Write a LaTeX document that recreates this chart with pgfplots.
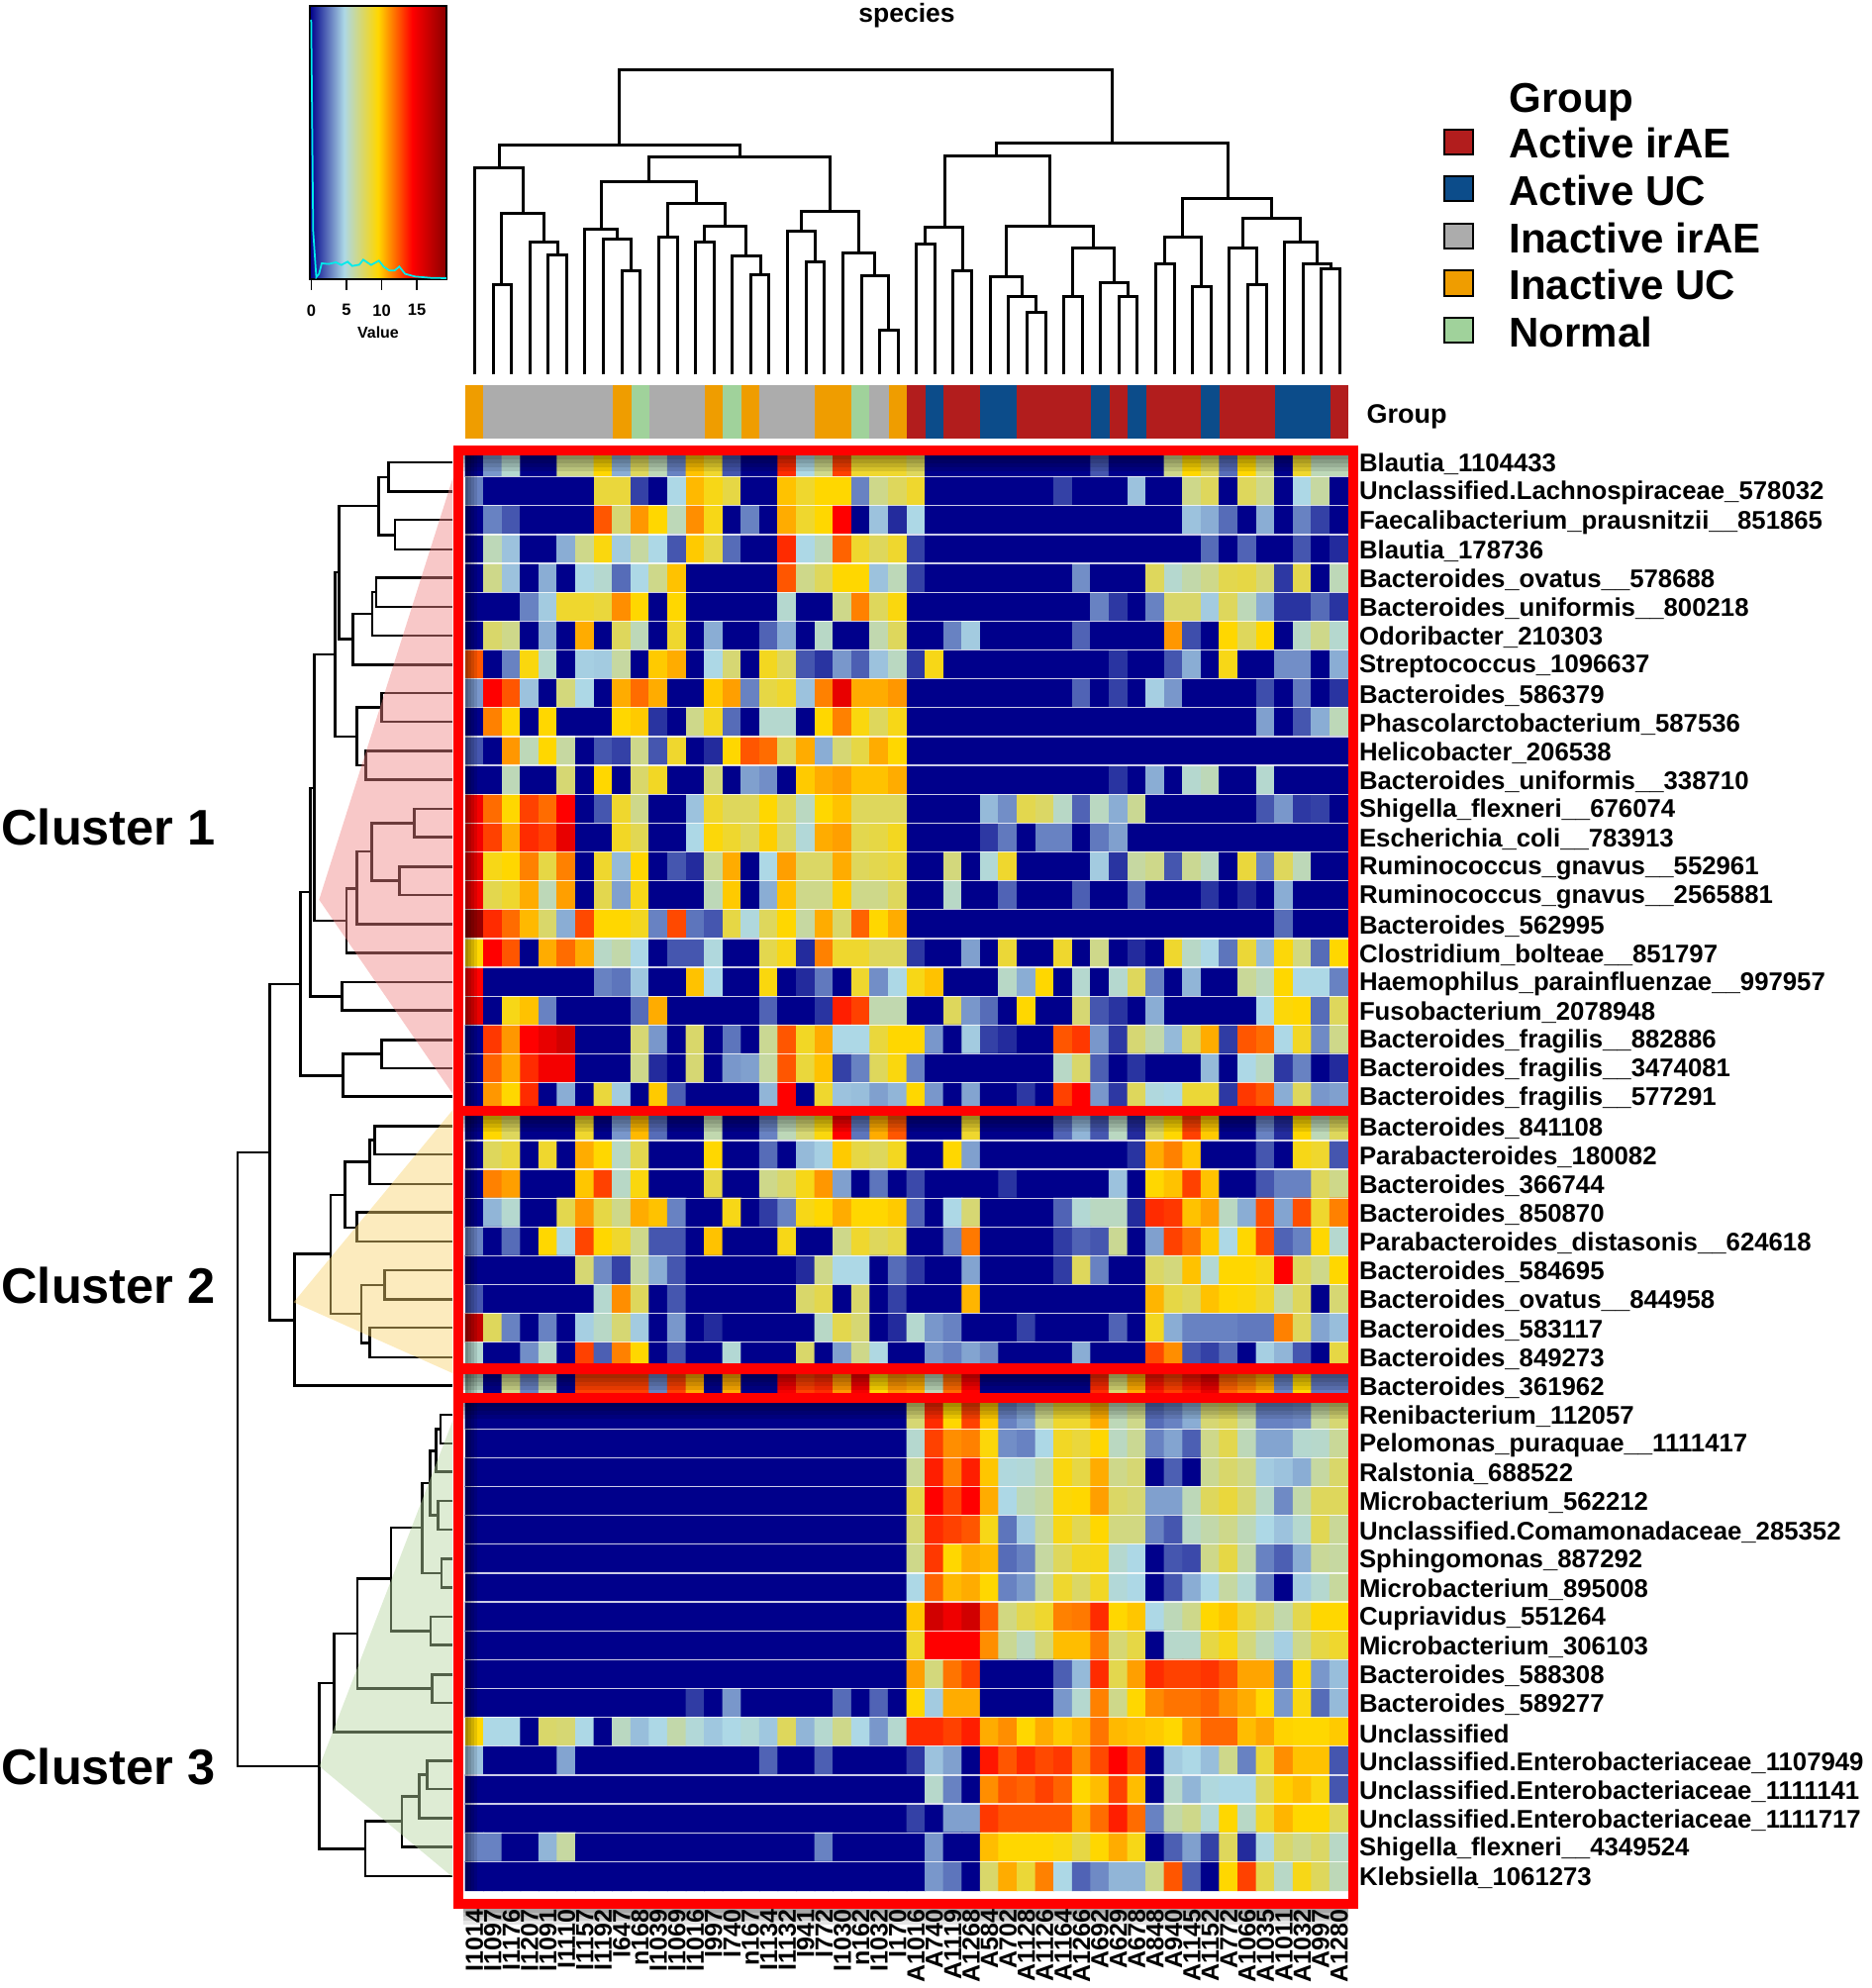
\documentclass[border=0pt]{standalone}
\usepackage{fontspec}
\setmainfont{Liberation Sans}
\usepackage{pgfplots}
\pgfplotsset{compat=1.18}
\definecolor{cA}{RGB}{178,29,29}
\definecolor{cB}{RGB}{12,76,138}
\definecolor{cC}{RGB}{172,172,172}
\definecolor{cD}{RGB}{239,157,0}
\definecolor{cE}{RGB}{160,210,155}
\definecolor{k0}{RGB}{0,0,139}
\definecolor{k1}{RGB}{173,216,230}
\definecolor{k2}{RGB}{255,215,0}
\definecolor{k3}{RGB}{255,0,0}
\definecolor{k4}{RGB}{139,0,0}
\definecolor{trR}{RGB}{240,133,133}
\definecolor{trO}{RGB}{249,211,111}
\definecolor{trG}{RGB}{182,213,160}
\definecolor{dens}{RGB}{0,235,235}
\pgfdeclarehorizontalshading{keyshade}{100bp}{color(0bp)=(k0); color(25bp)=(k0); color(37.5bp)=(k1); color(50bp)=(k2); color(62.5bp)=(k3); color(75bp)=(k4); color(100bp)=(k4)}
\pgfplotsset{base/.style={hide axis, scale only axis, clip=false, anchor=south west}}
\newcommand{\fs}[1]{\fontsize{#1}{#1}\selectfont\bfseries}
\newcommand{\lb}[2]{\node[anchor=west,inner sep=0pt] at (axis cs:47.5,#1+0.07) {\hspace{4.2pt}\fs{10.3}#2};}
\newcommand{\cl}[2]{\node[anchor=east,rotate=90,inner sep=0pt] at (axis cs:#1,50.15) {\fs{10}#2};}
\newcommand{\gb}[3]{\addplot[fill=#1,draw=none] coordinates {(#2,1017)(#3,1017)(#3,1180)(#2,1180)} --cycle;}
\newcommand{\sep}[1]{\draw[white,opacity=.8,line width=.5pt] (axis cs:-0.5,#1) -- (axis cs:47.5,#1);}
\newcommand{\tk}[2]{\draw[black,line width=.5pt] (axis cs:#1,845) -- (axis cs:#1,878);
  \node[inner sep=0pt] at (axis cs:#1,940) {\fontsize{6.6}{7}\selectfont\bfseries #2};}
\newcommand{\shb}[1]{\fill[black,opacity=.1] (axis cs:468,#1) rectangle (axis cs:1362,#1+4);
  \fill[black,opacity=.1] (axis cs:468,#1) rectangle (axis cs:1362,#1+8);
  \fill[black,opacity=.1] (axis cs:468,#1) rectangle (axis cs:1362,#1+12);
  \fill[black,opacity=.1] (axis cs:468,#1) rectangle (axis cs:1362,#1+16);}
\newcommand{\shl}[1]{\fill[black,opacity=.1] (axis cs:470,460) rectangle (axis cs:470+#1,1910);}
\begin{document}
\begin{tikzpicture}
\useasboundingbox (0,0) rectangle (756pt,803.2pt);
% ---------- heatmap
\begin{axis}[base, at={(188pt,39.4pt)}, width=356.8pt, height=582.8pt,
  xmin=-0.5,xmax=47.5,ymin=-0.5,ymax=49.5,y dir=reverse,
  colormap={hm}{rgb255=(0,0,139) rgb255=(173,216,230) rgb255=(255,215,0) rgb255=(255,0,0) rgb255=(139,0,0)},
  point meta min=0, point meta max=20]
\addplot[matrix plot*, mesh/cols=48, point meta=\thisrowno{0}] table[row sep=\\, header=false, x expr={\coordindex-48*floor((\coordindex+0.5)/48)}, y expr={floor((\coordindex+0.5)/48)}] {
0\\3.5\\5.5\\0\\0\\7\\7\\10\\4\\8\\6\\3\\10.5\\9\\2\\0\\0\\14\\5\\7\\13.5\\9\\9\\9\\8\\0\\0\\0\\0\\0\\0\\0\\0\\0\\2\\0\\0\\0\\7\\10\\8\\2.5\\10\\7\\0\\9\\6\\6\\
3\\0\\0\\0\\0\\0\\0\\8.7\\8.7\\1.5\\0\\5\\10.7\\9.5\\8.5\\0\\0\\10.5\\9\\10\\10\\3\\7\\8\\9\\0\\0\\0\\0\\0\\0\\0\\1.5\\0\\0\\0\\4.5\\0\\0\\7\\8\\0\\8\\7\\0\\5\\6.5\\0\\
0\\3\\2\\0\\0\\0\\0\\13\\7.5\\11.5\\10\\6\\11.7\\9.5\\0\\3\\0\\11\\9\\10\\15\\0\\4.5\\1\\5\\0\\0\\0\\0\\0\\0\\0\\0\\0\\0\\0\\0\\0\\0\\4.5\\4\\2.5\\0\\4\\0\\3\\1.5\\0\\
0\\6\\4.5\\0\\0\\4\\7\\9.7\\4.7\\6.5\\5\\2\\10.3\\8.5\\2.5\\0\\0\\14\\5\\6\\12.7\\9\\8\\9\\1.5\\0\\0\\0\\0\\0\\0\\0\\0\\0\\0\\0\\0\\0\\0\\0\\2.5\\0\\2.3\\0\\0\\2\\0\\1\\
0\\7\\4.5\\0\\4\\0\\5\\5.5\\2.5\\5\\7\\10.5\\0\\0\\0\\0\\0\\13\\7\\8\\10\\10\\4.5\\6\\1.5\\0\\0\\0\\0\\0\\0\\0\\0\\3.3\\0\\0\\0\\8\\5.5\\6.3\\7\\8.3\\8.5\\7.5\\1.3\\8.3\\0\\6\\
0\\0\\0\\3\\4.7\\9\\9\\8.7\\11.7\\10\\0\\10\\0\\0\\0\\0\\0\\5.5\\0\\0\\7\\12\\8\\9.7\\0\\0\\0\\0\\0\\0\\0\\0\\0\\0\\3\\1.3\\0\\3\\7.7\\7.7\\4.7\\8\\6\\4\\1.2\\1.2\\2.5\\1.2\\
0\\7.7\\7\\0\\4\\0\\11\\0\\8\\6\\0\\9\\0\\4\\0\\0\\2.3\\4\\0\\5.7\\0\\0\\6.2\\8\\0\\0\\3\\4.7\\0\\0\\0\\0\\0\\2.3\\0\\0\\0\\0\\11.5\\1.8\\0\\10\\8\\10\\0\\5.7\\7\\5.5\\
13\\0\\3\\9.7\\5.5\\0\\4.8\\4.7\\6.5\\0\\10.3\\11\\0\\5\\7.5\\0\\9.3\\8\\2\\1.2\\3.5\\2.2\\4.5\\5.8\\1.3\\9.5\\0\\0\\0\\0\\0\\0\\0\\0\\0\\1.2\\0\\0\\2\\4\\0\\9.5\\0\\0\\3.3\\3.3\\0\\4\\
3.5\\15\\13\\4.5\\0\\7.3\\5\\0\\11\\12.5\\11\\0\\0\\10.3\\11.3\\3\\8.5\\9\\4.5\\12\\16\\11\\11\\11.5\\0\\0\\0\\0\\0\\0\\0\\0\\0\\2.3\\0\\1.5\\0\\4.8\\3.5\\0\\0\\0\\0\\1.8\\0\\2.8\\0\\1.2\\
0\\12\\10\\0\\10\\0\\0\\0\\10\\10.3\\1.2\\0\\7\\9.3\\2.5\\0\\5.5\\5.5\\0\\10\\12\\9.7\\8\\9.5\\0\\0\\0\\0\\0\\0\\0\\0\\0\\0\\0\\0\\0\\0\\0\\0\\0\\0\\0\\3.7\\0\\2\\4\\6\\
2\\0\\11.5\\6\\10\\6.5\\0\\2\\1.5\\7\\2\\9\\0\\1\\10\\13\\12.5\\8\\11\\4\\7.5\\8.5\\11\\10\\0\\0\\0\\0\\0\\0\\0\\0\\0\\0\\0\\0\\0\\0\\0\\0\\0\\0\\0\\0\\0\\0\\0\\0\\
0\\0\\6\\0\\0\\7.5\\0\\10\\0\\7.7\\9.2\\0\\0\\7.3\\0\\3.7\\3.3\\0\\10.3\\11\\11.3\\10.5\\10.5\\11\\0\\0\\0\\0\\0\\0\\0\\0\\0\\0\\0\\1.2\\0\\4\\0\\5.5\\6\\0\\0\\5.5\\0\\0\\0\\0\\
15.5\\12.5\\10\\13.5\\12.5\\15\\0\\2\\9\\7\\0\\0\\4.5\\9\\8\\8\\10\\8\\5.8\\10\\10.5\\8\\8\\8\\0\\0\\0\\0\\4.3\\3.3\\8.3\\7.8\\5.7\\2.3\\5.8\\4\\6.8\\0\\0\\0\\0\\0\\0\\2\\3.5\\1.3\\1.5\\0\\
15.5\\13.5\\11\\14\\13.5\\16\\0\\0\\9.2\\8.2\\0\\0\\5\\9.8\\9\\8\\10.2\\7.8\\5.3\\11\\11.3\\8.3\\8.5\\9.3\\0\\0\\0\\0\\1.3\\2.8\\0\\3\\3\\0\\2.8\\3.7\\0\\0\\0\\0\\0\\0\\0\\0\\0\\0\\0\\0\\
16\\9.5\\10\\12\\8.5\\12\\0\\9\\4.3\\10\\0\\2\\1\\6.8\\11\\0\\5\\11.3\\7.8\\7.8\\11\\8\\8.3\\8.7\\0\\0\\7.3\\0\\5.3\\9\\0\\0\\0\\0\\4.7\\1.2\\6.5\\7\\2\\6.8\\5.8\\0\\8.7\\3\\8\\6\\0\\0\\
15.5\\8.3\\9\\11\\6\\11.3\\0\\8.3\\3.7\\9.5\\0\\0\\0\\6\\10.3\\0\\4\\10.5\\7\\7\\10.2\\7\\7\\8\\0\\0\\5.7\\0\\0\\2.3\\0\\0\\0\\2.2\\0\\0\\2.5\\0\\0\\0\\1.2\\0\\1\\0\\4\\0\\0\\0\\
19.5\\14\\12.5\\10.7\\7.7\\4\\13.3\\10\\10\\9.3\\3\\13.3\\2.7\\2\\8.5\\5.2\\8\\10\\6.5\\11\\7.7\\12.7\\10\\11\\0\\0\\0\\0\\0\\0\\0\\0\\0\\0\\0\\0\\0\\0\\0\\0\\0\\0\\0\\0\\2.5\\0\\0\\0\\
10\\15\\13\\0\\11\\12.5\\11\\5.7\\6.3\\5\\0\\2\\2\\5.2\\0\\0\\8.3\\9.5\\1\\12\\9\\9\\8\\8\\1.3\\0\\0\\3.7\\0\\8.8\\0\\0\\9\\0\\7\\0\\1\\0\\9\\5.7\\5\\2.7\\8.8\\4.3\\9.8\\7.2\\2.5\\10\\
15\\0\\0\\0\\0\\0\\0\\3\\2.7\\4.6\\0\\0\\10.5\\5\\0\\0\\9.7\\0\\1\\2.8\\0\\9\\3.3\\5\\9.5\\10.5\\0\\0\\0\\5.7\\4\\10\\0\\5.5\\0\\5.5\\8\\3\\0\\4.2\\0\\0\\6.7\\5.9\\10\\5\\5\\3\\
16\\0\\9.5\\10.5\\3\\0\\0\\0\\0\\2.5\\11\\0\\0\\0\\0\\0\\2.3\\0\\0\\1.2\\14.3\\13.5\\6.2\\6.2\\0\\0\\8\\3.5\\2.5\\0\\10\\0\\0\\7.5\\2\\1.2\\0\\4\\0\\0\\0\\0\\0\\5\\9.8\\10\\2.5\\8\\
0\\13.7\\11.5\\15\\16\\17\\0\\0\\0\\7.5\\3.5\\0\\7.7\\0\\2.7\\0\\6.8\\13\\9.2\\11\\5\\5\\8.7\\10\\10\\3.5\\0\\4.7\\1.5\\1\\0\\0\\13\\13.7\\3.5\\1.3\\7.5\\6.3\\4.3\\8\\11\\1.4\\13\\12.5\\5\\9.2\\3.2\\7\\
0\\12.7\\11\\14\\15.5\\15.5\\0\\0\\0\\7\\1\\0\\7.5\\0\\3.5\\3.7\\6.5\\13\\8.7\\10.5\\1.5\\3\\8\\9.7\\3\\0\\0\\0\\0\\0\\0\\0\\5.7\\7.7\\2.2\\0\\1.2\\0\\0\\0\\4.3\\0\\5\\5.8\\1.3\\3\\0\\1\\
0\\11.5\\10\\14\\0\\4\\0\\8.7\\4.7\\0\\10.3\\2.2\\0\\0\\0\\0\\4.2\\15\\0\\9\\4.5\\4.4\\3.7\\4.2\\10\\3.5\\0\\3.8\\0\\0\\1.3\\0\\13.5\\15\\3.5\\1.3\\8\\5.2\\5\\8.8\\8.8\\1.3\\13.7\\13\\4\\8\\3.5\\3.7\\
0\\10\\8\\0\\0\\0\\9\\0\\3.5\\10.7\\2.5\\0\\0\\6.2\\0\\0\\3\\6\\7.5\\9.7\\15\\2.7\\11\\13\\0\\0\\0\\9\\0\\0\\0\\0\\2.3\\4.2\\2\\5.8\\1\\8\\10\\13.5\\10.3\\0\\0\\3\\1\\10\\6\\8\\
0\\8\\8.7\\0\\9\\0\\11\\10\\5.7\\8.3\\0\\0\\0\\10\\0\\0\\2.5\\0\\4.3\\4.8\\10.3\\8.5\\8\\9.3\\0\\0\\10\\3.7\\0\\0\\0\\0\\0\\0\\0\\0\\1.2\\11\\12\\10.4\\0\\0\\0\\2\\0\\9.5\\9\\2\\
0\\12\\11.3\\0\\0\\0\\10.4\\13.5\\5.7\\9.7\\0\\0\\0\\8.5\\0\\0\\7\\7.7\\9.5\\11.5\\3.7\\0\\2.7\\0\\1.7\\0\\0\\0\\0\\1.2\\0\\0\\0\\0\\0\\4.5\\0\\10\\10.5\\13.5\\10.5\\0\\0\\2\\3\\3\\8\\7\\
0\\4.2\\5.5\\0\\0\\8.3\\11.5\\8.5\\7\\11\\10.5\\3\\0\\0\\9.5\\0\\1.4\\3\\9.5\\10\\11\\10\\10\\10.3\\2.3\\0\\5\\7.5\\0\\0\\0\\0\\2.3\\5.4\\5.8\\5.8\\1\\14\\13.7\\10.5\\11.3\\5.8\\4\\13.2\\3.8\\13.2\\9\\12\\
3\\0\\2.5\\0\\10\\5\\13.4\\10\\9\\7\\2\\2\\0\\10.5\\0\\0\\0\\9.5\\0\\0\\7\\9\\8\\8.5\\0\\0\\3\\12.2\\0\\0\\0\\0\\1.4\\2.3\\2\\6.8\\0\\3.7\\13.5\\12.3\\10.3\\5\\10\\13.3\\2.3\\3\\10\\5.5\\
0\\0\\0\\0\\0\\0\\7.5\\3.2\\1.5\\6.5\\4\\2\\0\\0\\0\\0\\0\\0\\1\\7\\5\\5\\0\\2.5\\1.3\\0\\0\\3.8\\0\\0\\0\\0\\1.4\\8\\3\\0\\0\\7.8\\7.3\\10.5\\5.4\\10\\10\\9.5\\15\\8\\7\\10\\
2\\0\\0\\0\\0\\0\\0\\5.5\\11.7\\8\\0\\2\\0\\0\\0\\0\\0\\0\\7.7\\8.3\\0\\7.7\\0\\1.5\\0\\0\\0\\10.8\\0\\0\\0\\0\\0\\0\\0\\0\\0\\10.8\\8.5\\8\\10.5\\10\\9.8\\9\\6.5\\8\\0\\7.5\\
17.5\\8\\3\\0\\3\\0\\4.8\\5.7\\7.5\\4.7\\0\\3.5\\0\\1\\0\\0\\0\\0\\0\\5.7\\8.3\\7.5\\0\\1\\5.5\\3.5\\3\\0\\0\\0\\1.5\\0\\0\\0\\0\\2.3\\0\\9.3\\4\\3\\3\\3\\2.8\\2.8\\12\\8\\3.8\\4.4\\
5.5\\0\\0\\3.3\\5.6\\0\\13.5\\2.2\\12\\10\\0\\2\\0\\0\\5.4\\0\\0\\0\\7.7\\0\\3.7\\7\\5.1\\0\\0\\3.5\\3\\3.8\\3.2\\0\\0\\0\\0\\4\\0\\0\\0\\13.3\\11.7\\2\\1.5\\2.5\\0\\4.8\\4.2\\2\\0\\8.5\\
5.7\\0\\7\\3\\6.5\\0\\13.5\\13.5\\13.5\\13.5\\3\\13.5\\11\\0\\11\\0\\0\\15.5\\13.5\\14\\11.5\\15.5\\10\\11.5\\11\\6\\12.5\\15\\0\\0\\0\\0\\0\\0\\14\\7.5\\11\\14.5\\13.5\\14.5\\16\\12.7\\12\\11\\3\\10\\2.8\\2.8\\
0\\0\\0\\0\\0\\0\\0\\0\\0\\0\\0\\0\\0\\0\\0\\0\\0\\0\\0\\0\\0\\0\\0\\0\\7.5\\14\\10\\13.5\\10.3\\3\\3.7\\7\\9\\9\\11\\6\\7\\2.5\\3\\4\\7.5\\8\\6.5\\3\\3\\3.2\\6.5\\7.5\\
0\\0\\0\\0\\0\\0\\0\\0\\0\\0\\0\\0\\0\\0\\0\\0\\0\\0\\0\\0\\0\\0\\0\\0\\5.5\\13.5\\11.7\\12\\9.8\\3.3\\3\\5\\9.2\\8.7\\10\\5.8\\6.8\\3\\3.8\\2.2\\7\\8.3\\6\\3.8\\3.8\\5.5\\5.6\\6.7\\
0\\0\\0\\0\\0\\0\\0\\0\\0\\0\\0\\0\\0\\0\\0\\0\\0\\0\\0\\0\\0\\0\\0\\0\\6.7\\14.3\\12\\14.3\\10.4\\5.2\\5.3\\6.2\\9.7\\8.5\\11\\7\\7.5\\0\\2.2\\0\\6.8\\7.7\\7\\4.7\\4.5\\4\\6.5\\7.7\\
0\\0\\0\\0\\0\\0\\0\\0\\0\\0\\0\\0\\0\\0\\0\\0\\0\\0\\0\\0\\0\\0\\0\\0\\8.3\\15\\13.5\\15\\11\\5\\6\\6.5\\9.8\\10\\11.3\\7.8\\7.5\\3.7\\3.7\\6\\8\\8.7\\7.5\\5.7\\3.2\\6.3\\8\\8\\
0\\0\\0\\0\\0\\0\\0\\0\\0\\0\\0\\0\\0\\0\\0\\0\\0\\0\\0\\0\\0\\0\\0\\0\\7.5\\14\\13.5\\13\\9.5\\2.7\\4.7\\6.5\\9.5\\8.2\\10\\7.2\\7.2\\3\\2\\5.7\\6.3\\7\\6\\5\\4.5\\5.5\\8.2\\6.7\\
0\\0\\0\\0\\0\\0\\0\\0\\0\\0\\0\\0\\0\\0\\0\\0\\0\\0\\0\\0\\0\\0\\0\\0\\7\\13.7\\10\\11\\10.7\\2.5\\3\\6.5\\8\\9.3\\9.5\\5.5\\5\\0\\2\\1.7\\7\\8.5\\6.3\\3\\2.2\\4\\6.7\\6.5\\
0\\0\\0\\0\\0\\0\\0\\0\\0\\0\\0\\0\\0\\0\\0\\0\\0\\0\\0\\0\\0\\0\\0\\0\\5\\12.7\\10.7\\11\\10\\3\\3.6\\6.5\\9\\7.8\\9.2\\5.3\\5\\0\\2\\4\\5\\6.5\\5.4\\3\\0\\4.7\\5.5\\6.6\\
0\\0\\0\\0\\0\\0\\0\\0\\0\\0\\0\\0\\0\\0\\0\\0\\0\\0\\0\\0\\0\\0\\0\\0\\10.4\\17\\15.7\\17\\12.8\\7.2\\8.3\\9\\12\\12.2\\14\\10\\10.4\\5\\6\\7\\10\\10.4\\8.7\\7.7\\6.3\\8.3\\10\\10\\
0\\0\\0\\0\\0\\0\\0\\0\\0\\0\\0\\0\\0\\0\\0\\0\\0\\0\\0\\0\\0\\0\\0\\0\\9\\15\\15\\15\\11.7\\6.8\\5.8\\7.5\\10.6\\10.6\\12.2\\7.5\\8.5\\0\\5.6\\5.6\\8.5\\9.5\\7.3\\6\\4.8\\7\\8.5\\9\\
0\\0\\0\\0\\0\\0\\0\\0\\0\\0\\0\\0\\0\\0\\0\\0\\0\\0\\0\\0\\0\\0\\0\\0\\11.3\\7.3\\12.3\\13.5\\0\\0\\0\\0\\2.2\\4.3\\14\\8.3\\11.3\\14\\13.5\\13.5\\13.8\\13\\11.2\\11.2\\3\\10\\3.5\\4.4\\
0\\0\\0\\0\\0\\0\\0\\0\\0\\0\\0\\0\\1.4\\0\\3.5\\0\\0\\0\\0\\0\\2.5\\0\\2.3\\0\\10\\4.7\\11\\11\\0\\0\\0\\0\\3.5\\5.5\\12\\7\\10\\11.8\\12.3\\12.3\\12.7\\11.7\\11\\10\\3.5\\9.7\\2.5\\4.3\\
10\\5\\5\\0\\7.7\\7.5\\5\\0\\5.8\\4.4\\5\\6.3\\5.3\\4.6\\5\\5.3\\4.6\\8\\4.2\\5.5\\7\\5\\3.5\\5.5\\14\\14\\13.5\\14.3\\11\\11.7\\10\\11\\10.3\\10.8\\12.3\\10.7\\10.5\\10.3\\10\\11.3\\12.6\\12.6\\10.6\\11.2\\10.1\\10\\10\\10.3\\
4.5\\0\\0\\0\\0\\3.8\\0\\0\\0\\0\\0\\0\\0\\0\\0\\0\\2.3\\0\\0\\2.2\\0\\0\\0\\0\\1.3\\4.5\\3.7\\0\\14.5\\13\\14\\13.3\\13.7\\11.7\\13.3\\15\\13.5\\0\\4.7\\5\\4.4\\7\\3\\8.8\\11.7\\10.5\\10.5\\2\\
0\\0\\0\\0\\0\\0\\0\\0\\0\\0\\0\\0\\0\\0\\0\\0\\0\\0\\0\\0\\0\\0\\0\\0\\0\\5.6\\3\\0\\11.7\\13\\12.7\\13.5\\12.7\\10\\10.6\\13.5\\10.6\\0\\5.6\\4.2\\5.2\\5\\5\\8\\10.2\\10.6\\9.7\\2\\
0\\0\\0\\0\\0\\0\\0\\0\\0\\0\\0\\0\\0\\0\\0\\0\\0\\0\\0\\0\\0\\0\\0\\0\\1.5\\0\\3.7\\3.7\\13.7\\13\\13\\13\\13\\11\\12.5\\14.3\\12.5\\3\\6.3\\7\\5.3\\10\\5.7\\9\\10.8\\10\\10\\8\\
3\\3\\0\\0\\4.2\\6.5\\0\\0\\0\\0\\0\\0\\0\\0\\0\\0\\0\\0\\0\\3\\0\\0\\0\\0\\0\\3.5\\0\\0\\10.6\\10\\10\\10\\9.7\\8.5\\10\\11\\9.5\\0\\2.2\\3.7\\1.5\\8\\1\\5.2\\7.7\\7\\7.8\\5.7\\
0\\0\\0\\0\\0\\0\\0\\0\\0\\0\\0\\0\\0\\0\\0\\0\\0\\0\\0\\0\\0\\0\\0\\0\\0\\3.5\\2.7\\0\\7.7\\11\\8.8\\12\\5\\2.3\\3.2\\4.2\\4.2\\7\\13\\2.2\\0\\10\\13.5\\8.3\\5.7\\9.5\\8\\6\\
};
\pgfplotsinvokeforeach{0.5,1.5,...,48.5}{\sep{#1}}
\lb{0}{Blautia\_1104433}
\lb{1}{Unclassified.Lachnospiraceae\_578032}
\lb{2}{Faecalibacterium\_prausnitzii\_\_851865}
\lb{3}{Blautia\_178736}
\lb{4}{Bacteroides\_ovatus\_\_578688}
\lb{5}{Bacteroides\_uniformis\_\_800218}
\lb{6}{Odoribacter\_210303}
\lb{7}{Streptococcus\_1096637}
\lb{8}{Bacteroides\_586379}
\lb{9}{Phascolarctobacterium\_587536}
\lb{10}{Helicobacter\_206538}
\lb{11}{Bacteroides\_uniformis\_\_338710}
\lb{12}{Shigella\_flexneri\_\_676074}
\lb{13}{Escherichia\_coli\_\_783913}
\lb{14}{Ruminococcus\_gnavus\_\_552961}
\lb{15}{Ruminococcus\_gnavus\_\_2565881}
\lb{16}{Bacteroides\_562995}
\lb{17}{Clostridium\_bolteae\_\_851797}
\lb{18}{Haemophilus\_parainfluenzae\_\_997957}
\lb{19}{Fusobacterium\_2078948}
\lb{20}{Bacteroides\_fragilis\_\_882886}
\lb{21}{Bacteroides\_fragilis\_\_3474081}
\lb{22}{Bacteroides\_fragilis\_\_577291}
\lb{23}{Bacteroides\_841108}
\lb{24}{Parabacteroides\_180082}
\lb{25}{Bacteroides\_366744}
\lb{26}{Bacteroides\_850870}
\lb{27}{Parabacteroides\_distasonis\_\_624618}
\lb{28}{Bacteroides\_584695}
\lb{29}{Bacteroides\_ovatus\_\_844958}
\lb{30}{Bacteroides\_583117}
\lb{31}{Bacteroides\_849273}
\lb{32}{Bacteroides\_361962}
\lb{33}{Renibacterium\_112057}
\lb{34}{Pelomonas\_puraquae\_\_1111417}
\lb{35}{Ralstonia\_688522}
\lb{36}{Microbacterium\_562212}
\lb{37}{Unclassified.Comamonadaceae\_285352}
\lb{38}{Sphingomonas\_887292}
\lb{39}{Microbacterium\_895008}
\lb{40}{Cupriavidus\_551264}
\lb{41}{Microbacterium\_306103}
\lb{42}{Bacteroides\_588308}
\lb{43}{Bacteroides\_589277}
\lb{44}{Unclassified}
\lb{45}{Unclassified.Enterobacteriaceae\_1107949}
\lb{46}{Unclassified.Enterobacteriaceae\_1111141}
\lb{47}{Unclassified.Enterobacteriaceae\_1111717}
\lb{48}{Shigella\_flexneri\_\_4349524}
\lb{49}{Klebsiella\_1061273}
\cl{0}{I1014}\cl{1}{I1097}\cl{2}{I1176}\cl{3}{I1207}\cl{4}{I1091}\cl{5}{I1110}\cl{6}{I1157}\cl{7}{I1192}
\cl{8}{I647}\cl{9}{n168}\cl{10}{I1039}\cl{11}{I1069}\cl{12}{I1016}\cl{13}{I997}\cl{14}{I740}\cl{15}{n167}
\cl{16}{I1134}\cl{17}{I1132}\cl{18}{I941}\cl{19}{I772}\cl{20}{I1030}\cl{21}{n162}\cl{22}{I1032}\cl{23}{I170}
\cl{24}{A1016}\cl{25}{A740}\cl{26}{A1119}\cl{27}{A1268}\cl{28}{A584}\cl{29}{A702}\cl{30}{A1128}\cl{31}{A1126}
\cl{32}{A1164}\cl{33}{A1266}\cl{34}{A692}\cl{35}{A629}\cl{36}{A678}\cl{37}{A848}\cl{38}{A940}\cl{39}{A1145}
\cl{40}{A1152}\cl{41}{A772}\cl{42}{A1066}\cl{43}{A1035}\cl{44}{A1011}\cl{45}{A1032}\cl{46}{A997}\cl{47}{A1280}
\end{axis}
% ---------- left dendrogram
\begin{axis}[base, at={(0pt,27.2pt)}, width=192pt, height=600pt,
  xmin=0,xmax=1440,ymin=0,ymax=1568,y dir=reverse, unbounded coords=jump]
\addplot[black, line width=1pt] coordinates {
(1372,28)(1178,28)(1178,59)(1372,59)(nan,nan)
(1372,89)(1197,89)(1197,120)(1372,120)(nan,nan)
(1178,44)(1147,44)(1147,105)(1197,105)(nan,nan)
(1372,150)(1140,150)(1140,181)(1372,181)(nan,nan)
(1140,165)(1128,165)(1128,211)(1372,211)(nan,nan)
(1128,188)(1070,188)(1070,242)(1372,242)(nan,nan)
(1147,74)(1027,74)(1027,215)(1070,215)(nan,nan)
(1372,272)(1157,272)(1157,302)(1372,302)(nan,nan)
(1372,333)(1108,333)(1108,363)(1372,363)(nan,nan)
(1157,287)(1082,287)(1082,348)(1108,348)(nan,nan)
(1027,144)(1015,144)(1015,318)(1082,318)(nan,nan)
(1372,394)(1255,394)(1255,424)(1372,424)(nan,nan)
(1372,455)(1210,455)(1210,485)(1372,485)(nan,nan)
(1255,409)(1127,409)(1127,470)(1210,470)(nan,nan)
(1127,439)(1082,439)(1082,516)(1372,516)(nan,nan)
(1082,478)(1050,478)(1050,546)(1372,546)(nan,nan)
(1015,231)(953,231)(953,512)(1050,512)(nan,nan)
(1372,577)(1037,577)(1037,607)(1372,607)(nan,nan)
(953,372)(940,372)(940,592)(1037,592)(nan,nan)
(1372,638)(1157,638)(1157,668)(1372,668)(nan,nan)
(1157,653)(1040,653)(1040,698)(1372,698)(nan,nan)
(940,482)(910,482)(910,676)(1040,676)(nan,nan)
(1372,729)(1135,729)(1135,759)(1372,759)(nan,nan)
(1135,744)(1120,744)(1120,790)(1372,790)(nan,nan)
(1372,820)(1082,820)(1082,851)(1372,851)(nan,nan)
(1120,767)(1045,767)(1045,836)(1082,836)(nan,nan)
(1372,881)(1165,881)(1165,912)(1372,912)(nan,nan)
(1372,942)(1120,942)(1120,973)(1372,973)(nan,nan)
(1165,897)(1095,897)(1095,958)(1120,958)(nan,nan)
(1045,802)(1002,802)(1002,927)(1095,927)(nan,nan)
(1002,864)(893,864)(893,1003)(1372,1003)(nan,nan)
(910,579)(817,579)(817,934)(893,934)(nan,nan)
(817,757)(720,757)(720,1405)(968,1405)(nan,nan)
(1372,1034)(1335,1034)(1335,1064)(1372,1064)(nan,nan)
(1335,1049)(1322,1049)(1322,1094)(1372,1094)(nan,nan)
(1372,1125)(1327,1125)(1327,1155)(1372,1155)(nan,nan)
(1322,1072)(1303,1072)(1303,1140)(1327,1140)(nan,nan)
(1372,1186)(1338,1186)(1338,1216)(1372,1216)(nan,nan)
(1303,1106)(1280,1106)(1280,1201)(1338,1201)(nan,nan)
(1372,1247)(1305,1247)(1305,1277)(1372,1277)(nan,nan)
(1280,1153)(1185,1153)(1185,1262)(1305,1262)(nan,nan)
(1372,1308)(1310,1308)(1310,1338)(1372,1338)(nan,nan)
(1185,1207)(1083,1207)(1083,1323)(1310,1323)(nan,nan)
(1083,1265)(1012,1265)(1012,1369)(1372,1369)(nan,nan)
(1372,1399)(1295,1399)(1295,1429)(1372,1429)(nan,nan)
(1295,1414)(1270,1414)(1270,1460)(1372,1460)(nan,nan)
(1270,1437)(1218,1437)(1218,1490)(1372,1490)(nan,nan)
(1218,1463)(1107,1463)(1107,1521)(1372,1521)(nan,nan)
(1012,1317)(968,1317)(968,1492)(1107,1492)
};
\addplot[fill=trR,fill opacity=.45,draw=none] coordinates {(967,490)(1372,45)(1372,695)} --cycle;
\addplot[fill=trO,fill opacity=.45,draw=none] coordinates {(890,915)(1372,712)(1372,990)} --cycle;
\addplot[fill=trG,fill opacity=.45,draw=none] coordinates {(968,1405)(1372,1040)(1372,1522)} --cycle;
\end{axis}
% ---------- top dendrogram and group bar
\begin{axis}[base, at={(184pt,619.2pt)}, width=368pt, height=164pt,
  xmin=0,xmax=1568,ymin=0,ymax=1230,y dir=reverse, unbounded coords=jump]
\addplot[black, line width=1.2pt] coordinates {
(282,290)(282,63)(1130,63)(1130,283)(nan,nan)
(75,358)(75,290)(490,290)(490,327)(nan,nan)
(33,985)(33,358)(116,358)(116,497)(nan,nan)
(80,713)(80,497)(152,497)(152,585)(nan,nan)
(65,985)(65,713)(96,713)(96,985)(nan,nan)
(128,985)(128,585)(176,585)(176,623)(nan,nan)
(160,985)(160,623)(191,623)(191,985)(nan,nan)
(333,400)(333,327)(645,327)(645,491)(nan,nan)
(251,546)(251,400)(415,400)(415,468)(nan,nan)
(223,985)(223,546)(279,546)(279,575)(nan,nan)
(255,985)(255,575)(302,575)(302,670)(nan,nan)
(287,985)(287,670)(318,670)(318,985)(nan,nan)
(366,568)(366,468)(465,468)(465,535)(nan,nan)
(350,985)(350,568)(382,568)(382,985)(nan,nan)
(429,583)(429,535)(500,535)(500,625)(nan,nan)
(413,985)(413,583)(445,583)(445,985)(nan,nan)
(477,985)(477,625)(525,625)(525,683)(nan,nan)
(509,985)(509,683)(540,683)(540,985)(nan,nan)
(596,550)(596,491)(694,491)(694,617)(nan,nan)
(572,985)(572,550)(620,550)(620,645)(nan,nan)
(604,985)(604,645)(635,645)(635,985)(nan,nan)
(667,985)(667,617)(722,617)(722,685)(nan,nan)
(699,985)(699,685)(746,685)(746,852)(nan,nan)
(730,985)(730,852)(762,852)(762,985)(nan,nan)
(932,322)(932,283)(1330,283)(1330,452)(nan,nan)
(842,539)(842,322)(1024,322)(1024,537)(nan,nan)
(809,590)(809,539)(873,539)(873,672)(nan,nan)
(794,985)(794,590)(825,590)(825,985)(nan,nan)
(857,985)(857,672)(889,672)(889,985)(nan,nan)
(948,689)(948,537)(1099,537)(1099,602)(nan,nan)
(921,985)(921,689)(976,689)(976,748)(nan,nan)
(952,985)(952,748)(1000,748)(1000,797)(nan,nan)
(984,985)(984,797)(1016,797)(1016,985)(nan,nan)
(1063,748)(1063,602)(1135,602)(1135,706)(nan,nan)
(1047,985)(1047,748)(1079,748)(1079,985)(nan,nan)
(1111,985)(1111,706)(1158,706)(1158,748)(nan,nan)
(1142,985)(1142,748)(1174,748)(1174,985)(nan,nan)
(1252,568)(1252,452)(1406,452)(1406,512)(nan,nan)
(1222,650)(1222,568)(1284,568)(1284,720)(nan,nan)
(1206,985)(1206,650)(1238,650)(1238,985)(nan,nan)
(1269,985)(1269,720)(1301,720)(1301,985)(nan,nan)
(1356,603)(1356,512)(1455,512)(1455,583)(nan,nan)
(1332,985)(1332,603)(1380,603)(1380,713)(nan,nan)
(1364,985)(1364,713)(1396,713)(1396,985)(nan,nan)
(1427,985)(1427,583)(1483,583)(1483,650)(nan,nan)
(1459,985)(1459,650)(1507,650)(1507,665)(nan,nan)
(1491,985)(1491,665)(1522,665)(1522,985)
};
\gb{cD}{17}{48}\gb{cC}{48}{271}\gb{cD}{271}{303}\gb{cE}{303}{334}\gb{cC}{334}{429}\gb{cD}{429}{460}
\gb{cE}{460}{493}\gb{cD}{493}{524}\gb{cC}{524}{619}\gb{cD}{619}{682}\gb{cE}{682}{713}\gb{cC}{713}{746}
\gb{cD}{746}{777}\gb{cA}{777}{809}\gb{cB}{809}{840}\gb{cA}{840}{904}\gb{cB}{904}{966}\gb{cA}{966}{1094}
\gb{cB}{1094}{1126}\gb{cA}{1126}{1158}\gb{cB}{1158}{1189}\gb{cA}{1189}{1284}\gb{cB}{1284}{1316}
\gb{cA}{1316}{1411}\gb{cB}{1411}{1506}\gb{cA}{1506}{1537}
\end{axis}
% ---------- colour key
\begin{axis}[base, at={(0pt,611.2pt)}, width=248pt, height=192pt,
  xmin=0,xmax=1568,ymin=0,ymax=1440,y dir=reverse]
\shade[shading=keyshade] (axis cs:792,18) rectangle (axis cs:1140,845);
\draw[black,line width=.8pt] (axis cs:792,18) rectangle (axis cs:1140,845);
\addplot[dens, line width=.7pt] coordinates {(795,60)(800,700)(808,840)(815,830)(822,798)(840,800)(858,795)(872,803)(888,793)(900,806)(918,802)(928,787)(948,803)(968,790)(980,808)(995,820)(1008,820)(1020,808)(1035,830)(1060,838)(1100,842)(1140,843)};
\tk{795}{0}\tk{885}{5}\tk{975}{10}\tk{1065}{15}
\node[inner sep=0pt] at (axis cs:966,1007) {\fontsize{6.4}{7}\selectfont\bfseries Value};
\end{axis}
% ---------- overlay in image pixels
\begin{axis}[base, at={(0pt,0pt)}, width=756pt, height=803.2pt,
  xmin=0,xmax=1890,ymin=0,ymax=2008,y dir=reverse]
\shb{460}\shb{1127}\shb{1388}\shb{1417}\shb{1928}
\shl{3}\shl{6}\shl{9}\shl{12}
\fill[red] (axis cs:458,450) rectangle (axis cs:1372,460);
\fill[red] (axis cs:458,1918) rectangle (axis cs:1372,1928);
\fill[red] (axis cs:458,450) rectangle (axis cs:468,1928);
\fill[red] (axis cs:1362,450) rectangle (axis cs:1372,1928);
\fill[red] (axis cs:458,1117) rectangle (axis cs:1372,1127);
\fill[red] (axis cs:458,1377) rectangle (axis cs:1372,1388);
\fill[red] (axis cs:458,1407) rectangle (axis cs:1372,1417);
\addplot[fill=cA,draw=black,line width=.8pt] coordinates {(1459,131)(1488,131)(1488,156)(1459,156)} --cycle;
\addplot[fill=cB,draw=black,line width=.8pt] coordinates {(1459,178)(1488,178)(1488,203)(1459,203)} --cycle;
\addplot[fill=cC,draw=black,line width=.8pt] coordinates {(1459,226)(1488,226)(1488,251)(1459,251)} --cycle;
\addplot[fill=cD,draw=black,line width=.8pt] coordinates {(1459,273)(1488,273)(1488,299)(1459,299)} --cycle;
\addplot[fill=cE,draw=black,line width=.8pt] coordinates {(1459,321)(1488,321)(1488,346)(1459,346)} --cycle;
\node[anchor=west,inner sep=0pt] at (axis cs:1524,103) {\fs{16.8}Group};
\node[anchor=west,inner sep=0pt] at (axis cs:1524,144) {\fs{16.8}Active irAE};
\node[anchor=west,inner sep=0pt] at (axis cs:1524,192) {\fs{16.8}Active UC};
\node[anchor=west,inner sep=0pt] at (axis cs:1524,240) {\fs{16.8}Inactive irAE};
\node[anchor=west,inner sep=0pt] at (axis cs:1524,287) {\fs{16.8}Inactive UC};
\node[anchor=west,inner sep=0pt] at (axis cs:1524,335) {\fs{16.8}Normal};
\node[inner sep=0pt] at (axis cs:916,16) {\fs{10.6}species};
\node[anchor=west,inner sep=0pt] at (axis cs:1380,421) {\fs{10.8}Group};
\node[anchor=west,inner sep=0pt] at (axis cs:1,835) {\fs{20.2}Cluster 1};
\node[anchor=west,inner sep=0pt] at (axis cs:1,1298) {\fs{20.2}Cluster 2};
\node[anchor=west,inner sep=0pt] at (axis cs:1,1784) {\fs{20.2}Cluster 3};
\end{axis}
\end{tikzpicture}
\end{document}
